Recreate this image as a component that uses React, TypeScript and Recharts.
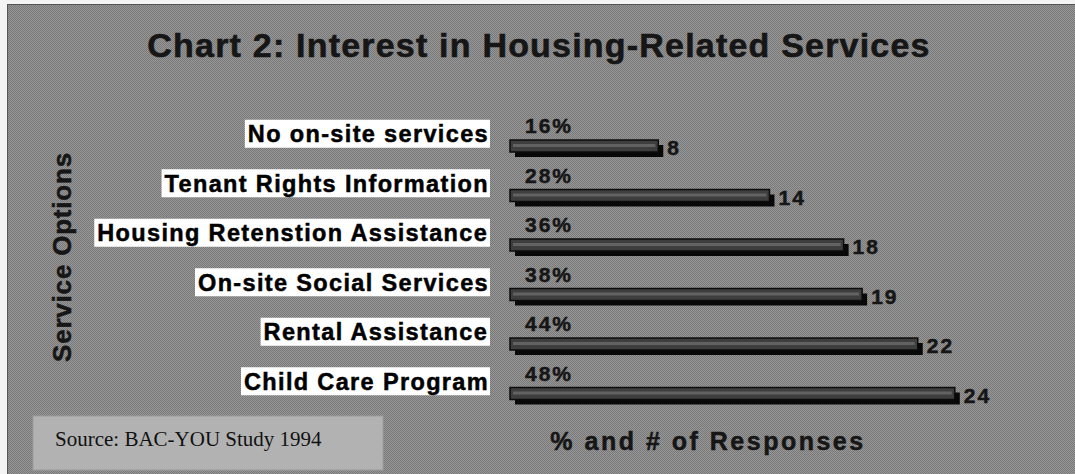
import React from "react";
import { BarChart, Bar, XAxis, YAxis, LabelList } from "recharts";

// Chart 2: Interest in Housing-Related Services (BAC-YOU Study 1994)
const services = [
  "No on-site services",
  "Tenant Rights Information",
  "Housing Retenstion Assistance",
  "On-site Social Services",
  "Rental Assistance",
  "Child Care Program",
];
const responses = [8, 14, 18, 19, 22, 24];
const shares = [16, 28, 36, 38, 44, 48];

const data = services.map((name, i) => ({ name, count: responses[i], pct: shares[i] }));

const SANS = '"Liberation Sans", Arial, Helvetica, sans-serif';
const SERIF = '"Liberation Serif", "Times New Roman", serif';
const INK = "#161616";

let ctx: CanvasRenderingContext2D | null = null;
function textWidth(text: string, size: number, spacing: number) {
  if (!ctx) ctx = document.createElement("canvas").getContext("2d");
  if (!ctx) return text.length * size * 0.6;
  ctx.font = `bold ${size}px ${SANS}`;
  return ctx.measureText(text).width + spacing * text.length;
}

const LABEL_SIZE = 23.5;
const LABEL_SPACING = 1.35;

// white box with the service name, right-aligned against the bars
const ServiceTick = ({ y, payload }: any) => {
  const label = String(payload.value);
  const w = textWidth(label, LABEL_SIZE, LABEL_SPACING);
  const right = 490;
  const cy = y - 12;
  return (
    <g>
      <rect x={right - w - 4} y={cy - 14} width={w + 4} height={28} fill="#ffffff" />
      <text
        x={right - w - 1}
        y={cy + 8.5}
        fill="#000"
        stroke="#000"
        strokeWidth={0.5}
        fontFamily={SANS}
        fontWeight={700}
        fontSize={LABEL_SIZE}
        style={{ letterSpacing: LABEL_SPACING }}
      >
        {label}
      </text>
    </g>
  );
};

// bar with a drop shadow, like the old 3D chart style
const ShadowBar = ({ x, y, width, height }: any) => (
  <g>
    <rect x={x + 5} y={y + 5} width={width} height={height} fill="#080808" />
    <rect x={x} y={y} width={width} height={height} fill="#3e3e3e" stroke="#0c0c0c" strokeWidth={1.5} />
    <rect x={x + 3} y={y + height / 2 - 2} width={Math.max(width - 6, 0)} height={3} fill="#626262" />
  </g>
);

const PctLabel = ({ x, y, value }: any) => (
  <text
    x={x + 15}
    y={y - 7}
    fill={INK}
    stroke={INK}
    strokeWidth={0.5}
    fontFamily={SANS}
    fontWeight={700}
    fontSize={21}
    style={{ letterSpacing: 2 }}
  >
    {value}%
  </text>
);

const CountLabel = ({ x, y, width, height, value }: any) => (
  <text
    x={x + width + 9}
    y={y + height / 2 + 9}
    fill={INK}
    stroke={INK}
    strokeWidth={0.5}
    fontFamily={SANS}
    fontWeight={700}
    fontSize={21}
    style={{ letterSpacing: 2 }}
  >
    {value}
  </text>
);

export default function App() {
  return (
    <div style={{ position: "absolute", left: 0, top: 0, width: 1075, height: 474, background: "#f4f4f4" }}>
      <div
        style={{
          position: "absolute",
          left: 7,
          top: 4,
          width: 1068,
          height: 470,
          background: "repeating-conic-gradient(#787878 0 25%, #989898 0 50%) 0 0 / 2px 2px",
          borderTop: "1px solid #555",
          borderLeft: "1px solid #555",
          boxSizing: "border-box",
        }}
      />
      <div style={{ position: "absolute", left: 0, top: 0 }}>
        <BarChart
          width={1075}
          height={474}
          data={data}
          layout="vertical"
          margin={{ top: 121, right: 9, bottom: 56, left: 0 }}
        >
          <XAxis type="number" domain={[0, 30]} hide height={0} />
          <YAxis
            type="category"
            dataKey="name"
            width={510}
            axisLine={false}
            tickLine={false}
            tick={<ServiceTick />}
            interval={0}
          />
          <Bar dataKey="count" barSize={12} shape={<ShadowBar />} isAnimationActive={false}>
            <LabelList dataKey="pct" content={<PctLabel />} />
            <LabelList dataKey="count" content={<CountLabel />} />
          </Bar>
        </BarChart>
      </div>
      <svg width={1075} height={474} style={{ position: "absolute", left: 0, top: 0, pointerEvents: "none" }}>
        <text
          x={539}
          y={57}
          textAnchor="middle"
          fill={INK}
          stroke={INK}
          strokeWidth={0.6}
          fontFamily={SANS}
          fontWeight={700}
          fontSize={34}
          style={{ letterSpacing: 1.2 }}
        >
          Chart 2: Interest in Housing-Related Services
        </text>
        <text
          x={62}
          y={257}
          transform="rotate(-90, 62, 257)"
          textAnchor="middle"
          dominantBaseline="central"
          fill={INK}
          stroke={INK}
          strokeWidth={0.5}
          fontFamily={SANS}
          fontWeight={700}
          fontSize={26}
          style={{ letterSpacing: 0.8 }}
        >
          Service Options
        </text>
        <text
          x={708}
          y={450}
          textAnchor="middle"
          fill={INK}
          stroke={INK}
          strokeWidth={0.5}
          fontFamily={SANS}
          fontWeight={700}
          fontSize={25}
          style={{ letterSpacing: 2.5 }}
        >
          % and # of Responses
        </text>
        <rect x={33} y={416} width={350} height={54} fill="#b2b2b2" stroke="#9c9c9c" strokeWidth={1} />
        <text x={55} y={446} fill="#111" fontFamily={SERIF} fontSize={21}>
          Source: BAC-YOU Study 1994
        </text>
      </svg>
    </div>
  );
}
